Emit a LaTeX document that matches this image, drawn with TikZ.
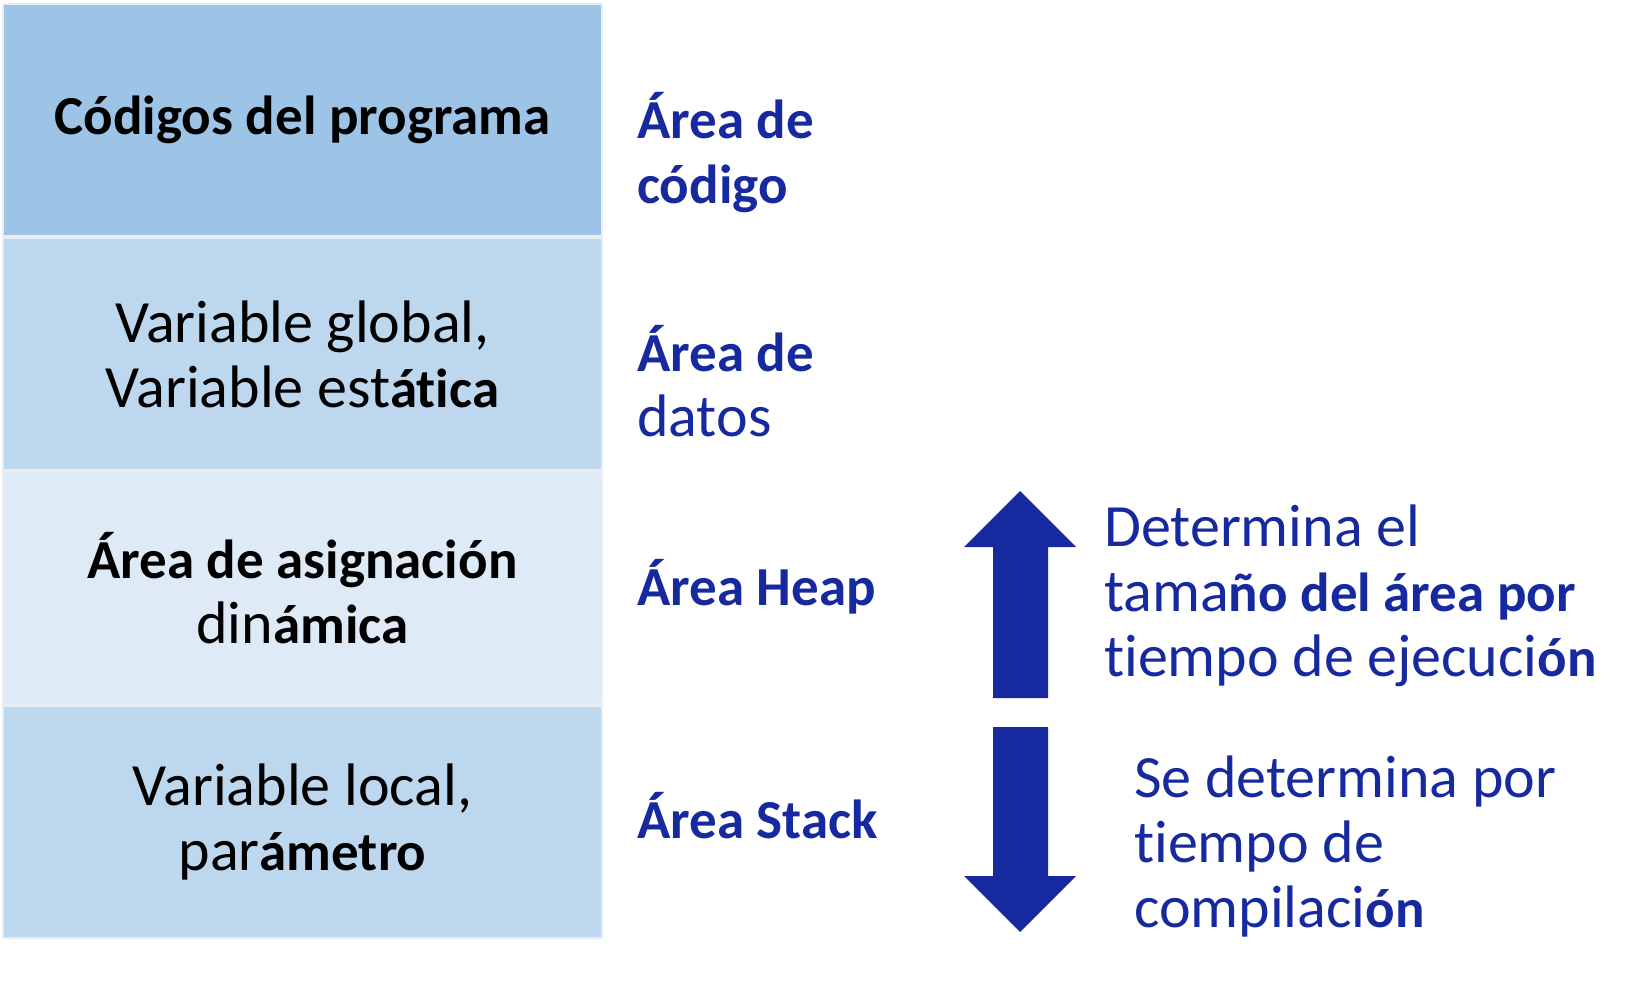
\documentclass[tikz,border=0pt]{standalone}
\usepackage{fontspec}
\setmainfont{Carlito}[Ligatures=NoCommon]
\definecolor{boxA}{HTML}{9DC3E6}
\definecolor{boxB}{HTML}{BDD7EE}
\definecolor{boxC}{HTML}{DEEBF7}
\definecolor{navy}{RGB}{23,41,158}
\definecolor{edge}{HTML}{E8EEF4}
\newcommand\bx[1]{{\fontsize{55}{65}\selectfont\bfseries #1}}
\tikzset{
  membox/.style={draw=edge, line width=2pt, minimum width=599pt, minimum height=232pt,
    inner sep=0pt, align=center, font=\fontsize{60}{65}\selectfont, text=black},
  desc/.style={anchor=base west, align=left, inner sep=0pt, text=navy,
    font=\fontsize{60}{65}\selectfont},
  bigarrow/.style={fill=navy, draw=none}
}
\begin{document}
\begin{tikzpicture}[x=1pt,y=-1pt]
\useasboundingbox (0,0) rectangle (1636,980);
\node[membox, fill=boxA] (code) at (302.5,119.5) {\bx{Códigos del programa}};
\node[membox, fill=boxB] (data) at (302.5,354) {Variable global,\\Variable est\bx{ática}};
\node[membox, fill=boxC] (heap) at (302.5,588) {\bx{Área de asignación}\\din\bx{ámica}};
\node[membox, fill=boxB] (stack) at (302.5,822) {Variable local,\\par\bx{ámetro}};

\node[desc] (lcode) at (637,203) {\bx{Área de}\\\bx{código}};
\node[desc] (ldata) at (637,436) {\bx{Área de}\\datos};
\node[desc] (lheap) at (637,605) {\bx{Área Heap}};
\node[desc] (lstack) at (637,838) {\bx{Área Stack}};

\fill[bigarrow] (1020,491) -- (1076,547) -- (1048,547) -- (1048,698) -- (993,698) -- (993,547) -- (964,547) -- cycle;
\fill[bigarrow] (993,727) -- (1048,727) -- (1048,876) -- (1076,876) -- (1020,932) -- (964,876) -- (993,876) -- cycle;

\node[desc] (dheap) at (1104,676) {Determina el\\tama\bx{ño del área por}\\tiempo de ejecuci\bx{ón}};
\node[desc] (dstack) at (1134,927) {Se determina por\\tiempo de\\compilaci\bx{ón}};
\end{tikzpicture}
\end{document}
